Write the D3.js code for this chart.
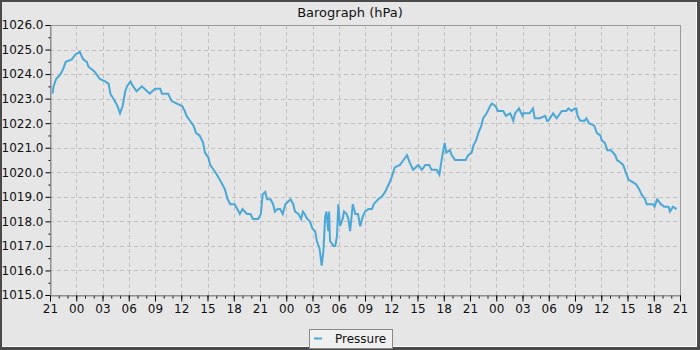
<!DOCTYPE html>
<html>
<head>
<meta charset="utf-8">
<script src="https://cdn.jsdelivr.net/npm/d3@7"></script>
<style>
  body { margin: 0; background: #fff; }
  svg { display: block; font-family: "DejaVu Sans", sans-serif; }
</style>
</head>
<body>
<svg id="chart"></svg>
<script>
// hours after the start (21:00 on day one), and pressure in hPa
var hours = [
  0.3, 0.4, 0.7, 1.2, 1.5, 1.8, 2.5, 2.9, 3.4, 3.8, 4.2, 4.4, 5.1, 5.7, 6.3, 6.7, 6.9, 7.4, 7.7, 8.0,
  8.3, 8.6, 8.8, 9.2, 9.5, 9.9, 10.5, 11.1, 11.4, 12.0, 12.6, 12.8, 13.5, 13.9, 14.5, 15.1, 15.4, 15.6, 16.0, 16.4,
  16.7, 17.1, 17.5, 17.7, 18.1, 18.3, 18.9, 19.4, 19.7, 20.0, 20.3, 20.6, 21.1, 21.4, 21.7, 22.0, 22.5, 22.9, 23.2, 23.8,
  24.1, 24.3, 24.6, 24.8, 25.2, 25.5, 25.7, 26.0, 26.3, 26.6, 26.9, 27.2, 27.5, 27.8, 28.0, 28.4, 28.7, 28.9, 29.1, 29.4,
  29.7, 30.0, 30.3, 30.5, 30.8, 31.05, 31.25, 31.45, 31.6, 31.8, 31.9, 32.0, 32.4, 32.6, 32.8, 32.95, 33.15, 33.45, 33.6, 33.9,
  34.1, 34.3, 34.5, 34.6, 34.9, 35.2, 35.45, 35.75, 36.0, 36.4, 36.8, 37.0, 37.5, 37.9, 38.3, 38.7, 39.05, 39.4, 40.0, 40.4,
  40.8, 41.1, 41.5, 42.1, 42.5, 42.9, 43.35, 43.6, 44.2, 44.5, 44.8, 45.1, 45.3, 45.7, 45.9, 46.3, 47.5, 47.8, 48.2, 48.4,
  48.7, 48.95, 49.3, 49.5, 49.9, 50.3, 50.5, 50.9, 51.2, 51.8, 52.1, 52.6, 52.95, 53.15, 53.6, 54.0, 54.1, 54.8, 55.2, 55.4,
  56.0, 56.6, 56.8, 56.95, 57.5, 57.9, 58.5, 59.0, 59.25, 59.6, 60.0, 60.15, 60.3, 60.6, 61.1, 61.3, 61.6, 62.2, 62.5, 62.9,
  63.05, 63.4, 63.7, 64.1, 64.6, 64.8, 65.2, 65.5, 65.8, 66.1, 66.6, 67.0, 67.35, 67.6, 68.0, 68.2, 68.9, 69.1, 69.4, 69.8,
  70.2, 70.7, 70.85, 71.2, 71.6
];
var pressure = [
  1023.2, 1023.5, 1023.8, 1024.0, 1024.2, 1024.5, 1024.6, 1024.8, 1024.9, 1024.6, 1024.5, 1024.3, 1024.1, 1023.8, 1023.7, 1023.6, 1023.2, 1022.9, 1022.7, 1022.4,
  1022.7, 1023.3, 1023.5, 1023.7, 1023.5, 1023.3, 1023.5, 1023.3, 1023.2, 1023.4, 1023.4, 1023.2, 1023.2, 1022.9, 1022.8, 1022.7, 1022.5, 1022.3, 1022.1, 1021.9,
  1021.6, 1021.5, 1021.2, 1020.8, 1020.6, 1020.3, 1020.0, 1019.7, 1019.5, 1019.3, 1018.9, 1018.7, 1018.7, 1018.5, 1018.3, 1018.5, 1018.3, 1018.3, 1018.1, 1018.1,
  1018.3, 1019.1, 1019.2, 1018.9, 1018.9, 1018.7, 1018.4, 1018.5, 1018.5, 1018.3, 1018.7, 1018.8, 1018.9, 1018.7, 1018.4, 1018.3, 1018.1, 1018.4, 1018.3, 1018.1,
  1018.0, 1017.7, 1017.6, 1017.2, 1016.9, 1016.2, 1016.8, 1018.2, 1018.4, 1017.6, 1018.4, 1017.2, 1017.0, 1017.0, 1017.4, 1018.7, 1017.8, 1018.1, 1018.4, 1018.3,
  1018.1, 1017.6, 1018.3, 1018.7, 1018.3, 1018.3, 1017.8, 1018.2, 1018.4, 1018.5, 1018.5, 1018.7, 1018.9, 1019.0, 1019.2, 1019.5, 1019.8, 1020.2, 1020.3, 1020.5,
  1020.7, 1020.4, 1020.1, 1020.3, 1020.1, 1020.3, 1020.3, 1020.1, 1020.1, 1019.9, 1020.6, 1021.2, 1020.8, 1020.9, 1020.7, 1020.5, 1020.5, 1020.7, 1020.8, 1021.1,
  1021.3, 1021.6, 1021.9, 1022.2, 1022.4, 1022.7, 1022.8, 1022.7, 1022.5, 1022.5, 1022.3, 1022.4, 1022.1, 1022.4, 1022.6, 1022.3, 1022.4, 1022.4, 1022.6, 1022.2,
  1022.2, 1022.3, 1022.1, 1022.1, 1022.4, 1022.2, 1022.5, 1022.5, 1022.6, 1022.5, 1022.6, 1022.6, 1022.3, 1022.1, 1022.1, 1022.2, 1022.0, 1021.9, 1021.6, 1021.5,
  1021.3, 1021.2, 1020.9, 1020.9, 1020.7, 1020.5, 1020.4, 1020.3, 1020.0, 1019.7, 1019.6, 1019.5, 1019.3, 1019.1, 1018.9, 1018.7, 1018.7, 1018.6, 1018.9, 1018.7,
  1018.6, 1018.6, 1018.4, 1018.6, 1018.5
];
var yTicks = [1015, 1016, 1017, 1018, 1019, 1020, 1021, 1022, 1023, 1024, 1025, 1026];
var chartTitle = "Barograph (hPa)";
var seriesName = "Pressure";

var width = 700,
    height = 350,
    margin = {top: 25, right: 20, bottom: 55, left: 50},
    lineColor = "#4aa8d8";

var start = new Date(Date.UTC(2024, 0, 1, 21));
var end = d3.utcHour.offset(start, 72);

var data = hours.map(function (h, i) {
    return {t: new Date(start.getTime() + h * 3600000), p: pressure[i]};
});

var svg = d3.select("#chart")
    .attr("width", width)
    .attr("height", height);

// frame with a little bevel on the bottom and right
svg.append("rect").attr("width", width).attr("height", height).style("fill", "#4a4a4a");
svg.append("rect").attr("x", 2).attr("y", 2).attr("width", 695).attr("height", 345).style("fill", "#fff");
svg.append("rect").attr("x", 2).attr("y", 2).attr("width", 694).attr("height", 344).style("fill", "#e6e6e6");

var x = d3.scaleUtc()
    .domain([start, end])
    .range([margin.left, width - margin.right]);

var y = d3.scaleLinear()
    .domain([1015, 1026])
    .range([height - margin.bottom, margin.top]);

svg.append("text")
    .attr("x", width / 2)
    .attr("y", 17)
    .attr("text-anchor", "middle")
    .style("font-size", "13px")
    .style("fill", "#111")
    .text(chartTitle);

// grid
var grid = svg.append("g")
    .style("stroke", "#c0c0c0")
    .style("stroke-dasharray", "4,3")
    .style("stroke-width", "1px");

grid.selectAll("line.v")
    .data(x.ticks(d3.utcHour.every(3)).slice(1, -1))
    .enter()
    .append("line")
    .attr("class", "v")
    .attr("x1", function (d) { return Math.round(x(d)) + 0.5; })
    .attr("x2", function (d) { return Math.round(x(d)) + 0.5; })
    .attr("y1", y(1026))
    .attr("y2", y(1015));

grid.selectAll("line.h")
    .data(yTicks.slice(1, -1))
    .enter()
    .append("line")
    .attr("class", "h")
    .attr("x1", x.range()[0])
    .attr("x2", x.range()[1])
    .attr("y1", function (d) { return Math.round(y(d)) + 0.5; })
    .attr("y2", function (d) { return Math.round(y(d)) + 0.5; });

// plot border
svg.append("rect")
    .attr("x", margin.left + 0.5)
    .attr("y", margin.top + 0.5)
    .attr("width", width - margin.left - margin.right)
    .attr("height", height - margin.top - margin.bottom)
    .style("fill", "none")
    .style("stroke", "#999");

// minor ticks
svg.append("g")
    .attr("transform", "translate(0," + (height - margin.bottom + 0.5) + ")")
    .call(d3.axisBottom(x).ticks(d3.utcHour.every(1)).tickSize(3).tickFormat(""))
    .call(function (g) { g.select(".domain").remove(); });

svg.append("g")
    .attr("transform", "translate(" + (margin.left + 0.5) + ",0)")
    .call(d3.axisLeft(y).tickValues(d3.range(1015.5, 1026, 1)).tickSize(2).tickFormat(""))
    .call(function (g) { g.select(".domain").remove(); });

// major ticks and labels
var xAxis = svg.append("g")
    .attr("transform", "translate(0," + (height - margin.bottom + 0.5) + ")")
    .call(d3.axisBottom(x).ticks(d3.utcHour.every(3)).tickSize(6).tickPadding(3).tickFormat(d3.utcFormat("%H")));

xAxis.select(".domain").style("stroke", "#888");

var yAxis = svg.append("g")
    .attr("transform", "translate(" + (margin.left + 0.5) + ",0)")
    .call(d3.axisLeft(y).tickValues(yTicks).tickSize(5).tickPadding(2).tickFormat(d3.format(".1f")));

yAxis.select(".domain").style("stroke", "#888");

svg.selectAll(".tick text")
    .style("font-family", "DejaVu Sans, sans-serif")
    .style("font-size", "12px")
    .style("fill", "#111");

// pressure trace
var line = d3.line()
    .x(function (d) { return x(d.t); })
    .y(function (d) { return y(d.p); });

svg.append("path")
    .datum(data)
    .attr("d", line)
    .style("fill", "none")
    .style("stroke", lineColor)
    .style("stroke-width", "2px")
    .style("stroke-linejoin", "miter");

// legend
var legend = svg.append("g").attr("transform", "translate(309,329)");

legend.append("rect")
    .attr("x", 0.5)
    .attr("y", 0.5)
    .attr("width", 83)
    .attr("height", 19)
    .style("fill", "#f0f0f0")
    .style("stroke", "#888");

legend.append("line")
    .attr("x1", 5)
    .attr("x2", 13)
    .attr("y1", 9.5)
    .attr("y2", 9.5)
    .style("stroke", lineColor)
    .style("stroke-width", "2px");

legend.append("text")
    .attr("x", 26)
    .attr("y", 14)
    .style("font-size", "12px")
    .style("fill", "#111")
    .text(seriesName);
</script>
</body>
</html>
